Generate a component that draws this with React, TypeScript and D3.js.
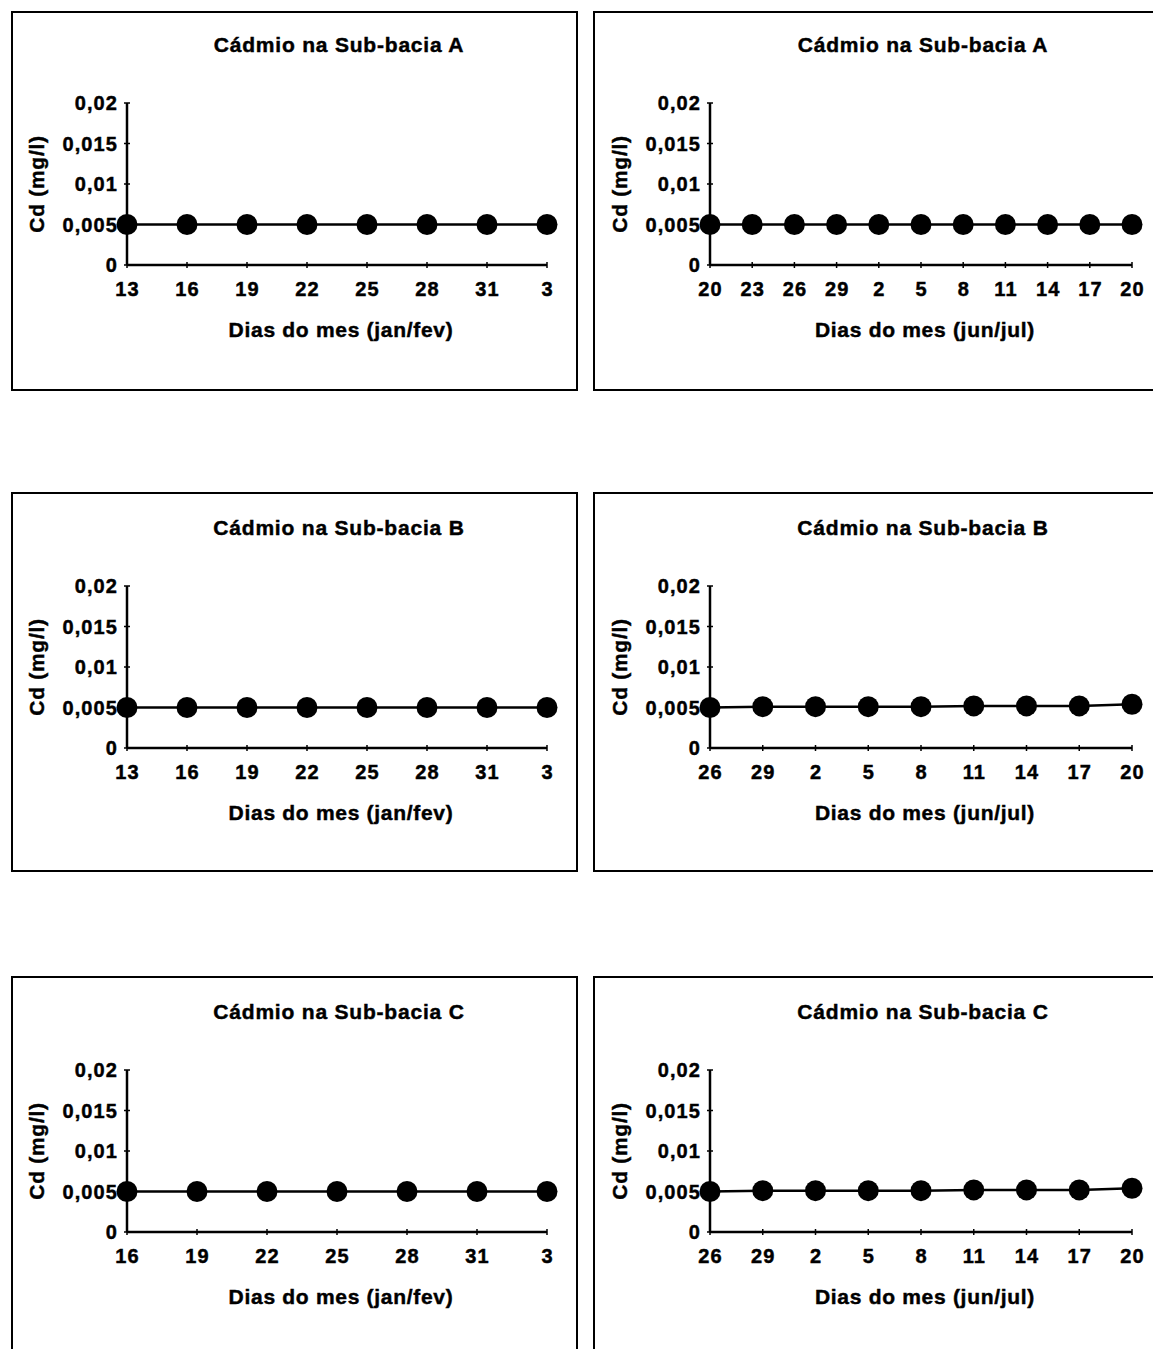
import React from "react";
import * as d3 from "d3";

// ---- data ----
const yTickValues = [0, 0.005, 0.01, 0.015, 0.02];
const yTickLabels = ["0", "0,005", "0,01", "0,015", "0,02"];

const titleA = "Cádmio na Sub-bacia A";
const titleB = "Cádmio na Sub-bacia B";
const titleC = "Cádmio na Sub-bacia C";
const xTitleJanFev = "Dias do mes (jan/fev)";
const xTitleJunJul = "Dias do mes (jun/jul)";
const yTitle = "Cd (mg/l)";

const daysA_janfev = ["13", "16", "19", "22", "25", "28", "31", "3"];
const cdA_janfev = [0.005, 0.005, 0.005, 0.005, 0.005, 0.005, 0.005, 0.005];

const daysA_junjul = ["20", "23", "26", "29", "2", "5", "8", "11", "14", "17", "20"];
const cdA_junjul = [0.005, 0.005, 0.005, 0.005, 0.005, 0.005, 0.005, 0.005, 0.005, 0.005, 0.005];

const daysB_janfev = ["13", "16", "19", "22", "25", "28", "31", "3"];
const cdB_janfev = [0.005, 0.005, 0.005, 0.005, 0.005, 0.005, 0.005, 0.005];

const daysB_junjul = ["26", "29", "2", "5", "8", "11", "14", "17", "20"];
const cdB_junjul = [0.005, 0.0051, 0.0051, 0.0051, 0.0051, 0.0052, 0.0052, 0.0052, 0.0054];

const daysC_janfev = ["16", "19", "22", "25", "28", "31", "3"];
const cdC_janfev = [0.005, 0.005, 0.005, 0.005, 0.005, 0.005, 0.005];

const daysC_junjul = ["26", "29", "2", "5", "8", "11", "14", "17", "20"];
const cdC_junjul = [0.005, 0.0051, 0.0051, 0.0051, 0.0051, 0.0052, 0.0052, 0.0052, 0.0054];

// ---- layout ----
const W = 1153;
const H = 1349;
const FONT = "'Liberation Sans', Arial, Helvetica, sans-serif";

const cols = [
  { boxL: 12, boxR: 577, plotL: 127, plotR: 547 },
  { boxL: 594, boxR: 1172, plotL: 710, plotR: 1132 },
];
const rows = [
  { boxT: 12, boxB: 390, plotT: 103, plotB: 265 },
  { boxT: 493, boxB: 871, plotT: 586, plotB: 748 },
  { boxT: 977, boxB: 1362, plotT: 1070, plotB: 1232 },
];

const panels = [
  { row: 0, col: 0, title: titleA, days: daysA_janfev, values: cdA_janfev, xTitle: xTitleJanFev },
  { row: 0, col: 1, title: titleA, days: daysA_junjul, values: cdA_junjul, xTitle: xTitleJunJul },
  { row: 1, col: 0, title: titleB, days: daysB_janfev, values: cdB_janfev, xTitle: xTitleJanFev },
  { row: 1, col: 1, title: titleB, days: daysB_junjul, values: cdB_junjul, xTitle: xTitleJunJul },
  { row: 2, col: 0, title: titleC, days: daysC_janfev, values: cdC_janfev, xTitle: xTitleJanFev },
  { row: 2, col: 1, title: titleC, days: daysC_junjul, values: cdC_junjul, xTitle: xTitleJunJul },
];

const textStyle = {
  fontFamily: FONT,
  fontWeight: "bold" as const,
  stroke: "black",
  strokeWidth: 0.45,
};

function Panel({ p }: { p: any }) {
  const c = cols[p.col];
  const r = rows[p.row];
  const idx = p.days.map((_: string, i: number) => i);
  const x = d3.scalePoint<number>().domain(idx).range([c.plotL, c.plotR]);
  const y = d3.scaleLinear().domain([0, 0.02]).range([r.plotB, r.plotT]);
  const line = d3
    .line<number>()
    .x((_, i) => x(i) as number)
    .y((v) => y(v));
  const cx = (c.plotL + c.plotR) / 2;
  const cy = (r.plotT + r.plotB) / 2;
  return (
    <g>
      <rect
        x={c.boxL}
        y={r.boxT}
        width={c.boxR - c.boxL}
        height={r.boxB - r.boxT}
        fill="white"
        stroke="black"
        strokeWidth={2}
      />
      <text x={cx + 2} y={r.plotT - 51} textAnchor="middle" fontSize={21} letterSpacing={0.8} style={textStyle}>
        {p.title}
      </text>
      {/* y axis */}
      <line x1={c.plotL} x2={c.plotL} y1={y(0)} y2={y(0.02)} stroke="black" strokeWidth={2.5} />
      {yTickValues.map((v, i) => (
        <g key={"yt" + i}>
          <line x1={c.plotL - 3} x2={c.plotL + 3} y1={y(v)} y2={y(v)} stroke="black" strokeWidth={1.5} />
          <text
            x={c.plotL - 9}
            y={y(v)}
            dy="0.36em"
            textAnchor="end"
            fontSize={20}
            letterSpacing={1.1}
            style={textStyle}
          >
            {yTickLabels[i]}
          </text>
        </g>
      ))}
      <text
        transform={`translate(${c.plotL - 83},${cy}) rotate(-90)`}
        textAnchor="middle"
        fontSize={21}
        letterSpacing={0.7}
        style={textStyle}
      >
        {yTitle}
      </text>
      {/* x axis */}
      <line x1={c.plotL} x2={c.plotR} y1={y(0)} y2={y(0)} stroke="black" strokeWidth={2.5} />
      {p.days.map((d: string, i: number) => (
        <g key={"xt" + i}>
          <line x1={x(i)} x2={x(i)} y1={y(0) - 3} y2={y(0) + 3} stroke="black" strokeWidth={1.5} />
          <text
            x={(x(i) as number) + 0.6}
            y={r.plotB + 31}
            textAnchor="middle"
            fontSize={20}
            letterSpacing={1.1}
            style={textStyle}
          >
            {d}
          </text>
        </g>
      ))}
      <text x={cx + 4} y={r.plotB + 72} textAnchor="middle" fontSize={21} letterSpacing={0.7} style={textStyle}>
        {p.xTitle}
      </text>
      {/* series */}
      <path d={line(p.values) || ""} fill="none" stroke="black" strokeWidth={2.5} />
      {p.values.map((v: number, i: number) => (
        <circle key={"pt" + i} cx={x(i)} cy={y(v)} r={10.5} fill="black" />
      ))}
    </g>
  );
}

export default function App() {
  return (
    <svg
      width={W}
      height={H}
      viewBox={`0 0 ${W} ${H}`}
      style={{ position: "absolute", left: 0, top: 0, background: "white" }}
    >
      <rect x={0} y={0} width={W} height={H} fill="white" />
      {panels.map((p, i) => (
        <Panel key={i} p={p} />
      ))}
    </svg>
  );
}
